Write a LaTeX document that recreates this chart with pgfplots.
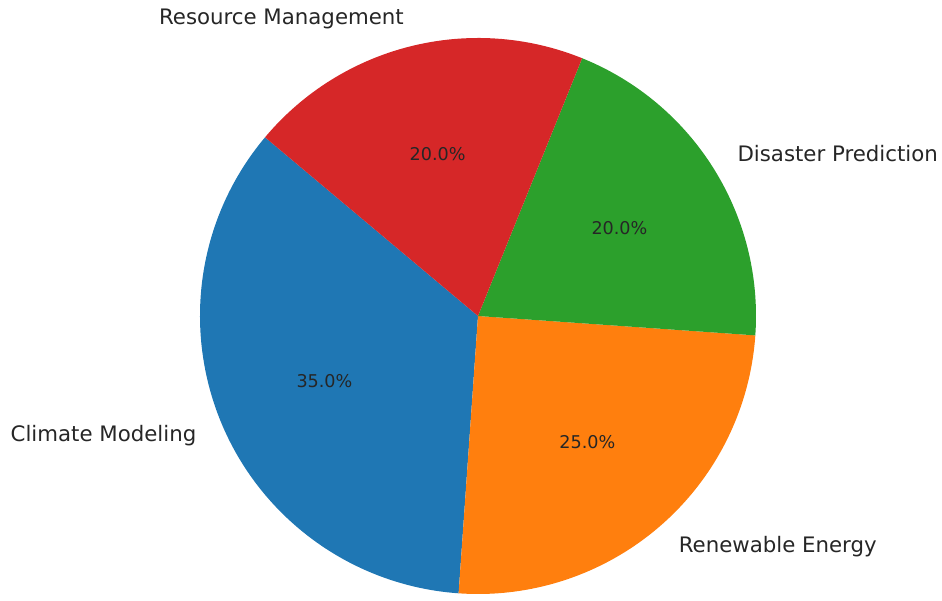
\documentclass[border=0pt]{standalone}
\usepackage{pgfplots}
\pgfplotsset{compat=1.18}
\usepackage{fontspec}
\setmainfont{DejaVu Sans}
\definecolor{c1}{HTML}{1F77B4}
\definecolor{c2}{HTML}{FF7F0E}
\definecolor{c3}{HTML}{2CA02C}
\definecolor{c4}{HTML}{D62728}
\definecolor{txt}{HTML}{262626}
\begin{document}
\begin{tikzpicture}
\begin{axis}[x=1pt,y=1pt,xmin=0,xmax=942,ymin=0,ymax=594,hide axis,clip=false]
\path (axis cs:0,0) rectangle (axis cs:942,594);
\gdef\s{140}
\foreach \v/\col/\lab in {35/c1/Climate Modeling,25/c2/Renewable Energy,20/c3/Disaster Prediction,20/c4/Resource Management}{
  \pgfmathsetmacro\e{\s+3.6*\v}
  \pgfmathsetmacro\m{(\s+\e)/2}
  \pgfmathsetmacro\ca{cos(\m)}
  \pgfmathsetmacro\lx{478+305.8*cos(\m)}
  \pgfmathsetmacro\ly{278+305.8*sin(\m)}
  \pgfmathsetmacro\px{478+166.8*cos(\m)}
  \pgfmathsetmacro\py{278+166.8*sin(\m)}
  \ifdim\ca pt<0pt \def\anc{east}\else\def\anc{west}\fi
  \edef\temp{\noexpand\fill[\col] (axis cs:478,278) -- ++(\s:278pt) arc[start angle=\s, end angle=\e, radius=278pt] -- cycle;
    \noexpand\node[anchor=\anc,inner sep=0pt,text=txt,font=\noexpand\fontsize{21.3}{25}\noexpand\selectfont] at (axis cs:\lx,\ly) {\lab};
    \noexpand\node[inner sep=0pt,text=txt,font=\noexpand\fontsize{17.6}{21}\noexpand\selectfont] at (axis cs:\px,\py) {\v.0\noexpand\%};}
  \temp
  \xdef\s{\e}
}
\end{axis}
\end{tikzpicture}
\end{document}
